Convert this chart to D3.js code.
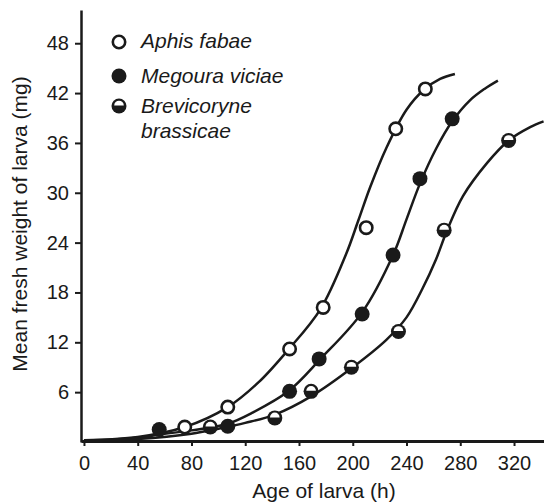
<!DOCTYPE html>
<html>
<head>
<meta charset="utf-8">
<script src="https://cdn.jsdelivr.net/npm/d3@7/dist/d3.min.js"></script>
<style>
  html, body { margin: 0; padding: 0; background: #fff; }
  svg { display: block; }
  text { font-family: "Liberation Sans", Arial, Helvetica, sans-serif; fill: #1a1a1a; }
</style>
</head>
<body>
<svg id="chart" width="544" height="503"></svg>
<script>
// Species names
const species = ["Aphis fabae", "Megoura viciae", "Brevicoryne brassicae"];

// Observed larval weights: [age (h), mean fresh weight (mg)]
const aphisPoints = [[75, 1.8], [107, 4.2], [153, 11.2], [178, 16.2], [210, 25.8], [232, 37.7], [254, 42.5]];
const megouraPoints = [[56, 1.5], [107, 1.9], [153, 6.1], [175, 10.0], [207, 15.4], [230, 22.5], [250, 31.7], [274, 38.9]];
const brevicorynePoints = [[94, 1.8], [142, 2.9], [169, 6.1], [199, 9.0], [234, 13.3], [268, 25.5], [316, 36.3]];

// Fitted growth curves, traced as [age (h), weight (mg)]
const aphisCurve = [[0, 0.2], [40, 0.6], [75, 1.8], [107, 4.2], [130, 7.2], [152, 11.1], [176, 16.0], [195, 22.6], [204, 26.6], [213, 30.7], [225, 35.4], [240, 40.0], [253, 42.4], [265, 43.7], [276, 44.3]];
const megouraCurve = [[0, 0.15], [40, 0.5], [56, 0.9], [80, 1.4], [107, 2.2], [125, 3.5], [152, 6.1], [176, 10.0], [207, 15.6], [230, 22.5], [240, 26.8], [250, 31.1], [262, 35.3], [274, 38.6], [287, 41.1], [298, 42.5], [308, 43.5]];
const brevicoryneCurve = [[0, 0.1], [40, 0.35], [80, 1.0], [100, 1.6], [120, 2.3], [142, 3.3], [169, 5.5], [200, 9.0], [225, 12.3], [240, 15.0], [252, 18.5], [262, 22.0], [270, 25.4], [282, 29.6], [300, 33.6], [316, 36.3], [332, 37.9], [342, 38.6]];

// Axis ticks
const xTicks = [0, 40, 80, 120, 160, 200, 240, 280, 320];
const yTicks = [6, 12, 18, 24, 30, 36, 42, 48];

const svg = d3.select("#chart");
const ink = "#1a1a1a";

const x = d3.scaleLinear().domain([-2.2, 342.3]).range([81, 544]);
const y = d3.scaleLinear().domain([0, 52]).range([442, 10]);

// Axes
const xAxis = svg.append("g")
  .attr("transform", "translate(0,441)")
  .call(d3.axisBottom(x).tickValues(xTicks).tickSize(5).tickSizeOuter(0).tickPadding(10));
xAxis.select(".domain").attr("stroke", ink).attr("stroke-width", 3);
xAxis.selectAll(".tick line").attr("stroke", ink).attr("stroke-width", 2);
xAxis.selectAll(".tick text").style("font-size", "20px").attr("fill", ink);

const yAxis = svg.append("g")
  .attr("transform", "translate(81,0)")
  .call(d3.axisLeft(y).tickValues(yTicks).tickSize(6).tickSizeOuter(0).tickPadding(6));
yAxis.select(".domain").attr("stroke", ink).attr("stroke-width", 2.5);
yAxis.selectAll(".tick line").attr("stroke", ink).attr("stroke-width", 2);
yAxis.selectAll(".tick text").style("font-size", "20px").attr("fill", ink);

// Axis titles
svg.append("text")
  .attr("x", 324).attr("y", 498)
  .attr("text-anchor", "middle")
  .style("font-size", "21px")
  .text("Age of larva (h)");

svg.append("text")
  .attr("transform", "translate(27,224) rotate(-90)")
  .attr("text-anchor", "middle")
  .style("font-size", "21px")
  .text("Mean fresh weight of larva (mg)");

// Growth curves
const line = d3.line()
  .x(d => x(d[0]))
  .y(d => y(d[1]))
  .curve(d3.curveCatmullRom.alpha(0.5));

[aphisCurve, megouraCurve, brevicoryneCurve].forEach(c => {
  svg.append("path")
    .attr("d", line(c))
    .attr("fill", "none")
    .attr("stroke", ink)
    .attr("stroke-width", 2.5);
});

// Marker drawing: open, filled, and half-filled circles
const R = 7.2;
function drawMarker(g, kind) {
  if (kind === 0) {
    g.append("circle").attr("r", R - 1).attr("fill", "#fff").attr("stroke", ink).attr("stroke-width", 2.6);
  } else if (kind === 1) {
    g.append("circle").attr("r", R + 0.3).attr("fill", ink);
  } else {
    g.append("circle").attr("r", R + 0.3).attr("fill", ink);
    const r2 = R - 2.4;
    g.append("path")
      .attr("d", `M${-r2},-0.5 A${r2},${r2} 0 0 1 ${r2},-0.5 Z`)
      .attr("fill", "#fff");
  }
}

const pointSets = [aphisPoints, megouraPoints, brevicorynePoints];
pointSets.forEach((pts, k) => {
  svg.append("g").selectAll("g")
    .data(pts)
    .join("g")
    .attr("transform", d => `translate(${x(d[0])},${y(d[1])})`)
    .each(function () { drawMarker(d3.select(this), k); });
});

// Legend
const legendY = [42, 76, 106];
const legend = svg.append("g");
species.forEach((name, k) => {
  const g = legend.append("g").attr("transform", `translate(119,${legendY[k]})`);
  drawMarker(g, k);
});
const legendFont = "21px";
legend.append("text").attr("x", 141).attr("y", 48).style("font-size", legendFont).style("font-style", "italic").text("Aphis fabae");
legend.append("text").attr("x", 141).attr("y", 83).style("font-size", legendFont).style("font-style", "italic").text("Megoura viciae");
legend.append("text").attr("x", 141).attr("y", 113).style("font-size", legendFont).style("font-style", "italic").text("Brevicoryne");
legend.append("text").attr("x", 141).attr("y", 138).style("font-size", legendFont).style("font-style", "italic").text("brassicae");
</script>
</body>
</html>
